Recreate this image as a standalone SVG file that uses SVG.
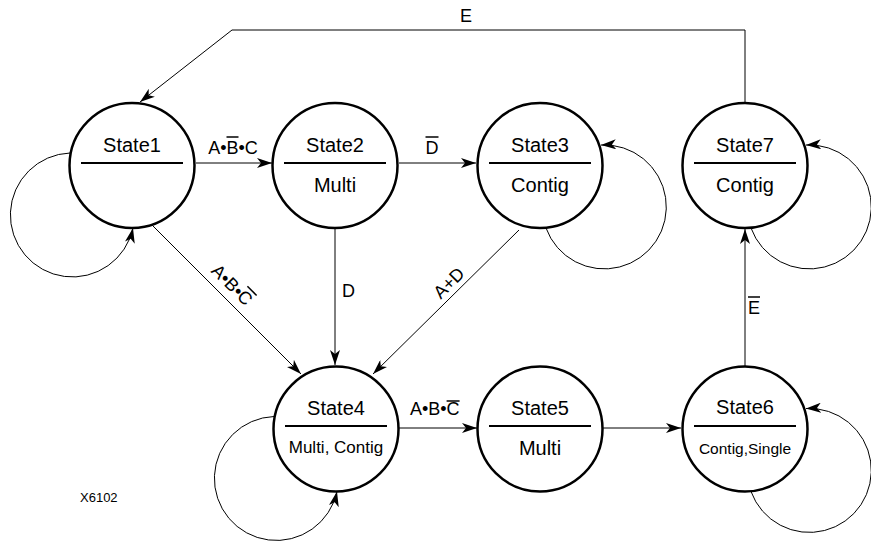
<svg xmlns="http://www.w3.org/2000/svg" width="871" height="542" viewBox="0 0 871 542">
<style>
.st{fill:#fff;stroke:#000;stroke-width:2.5}
.dv{stroke:#000;stroke-width:1.8}
.t{font-family:"Liberation Sans",Arial,sans-serif;fill:#000;text-anchor:middle}
.nm{font-size:20px}
.sb{font-size:20px}
.c{fill:none;stroke:#000;stroke-width:1}
.lb{font-family:"Liberation Sans",Arial,sans-serif;font-size:18px;fill:#000}
.ol{stroke:#000;stroke-width:1.5}
</style>
<defs>
<marker id="ah" viewBox="0 0 15 10" refX="15" refY="5" markerWidth="15" markerHeight="10" markerUnits="userSpaceOnUse" orient="auto">
<path d="M0,0 L15,5 L0,10 L4,5 Z" fill="#000"/>
</marker>
</defs>
<rect width="871" height="542" fill="#fff"/>
<g id="connectors" class="c">
<path d="M196,163 L272,163" marker-end="url(#ah)"/>
<path d="M399,163 L476,163" marker-end="url(#ah)"/>
<path d="M152,225 L301,374" marker-end="url(#ah)"/>
<path d="M335,228 L335,365" marker-end="url(#ah)"/>
<path d="M519,230 L373,374" marker-end="url(#ah)"/>
<path d="M399,428 L477,428" marker-end="url(#ah)"/>
<path d="M603,428 L681,428" marker-end="url(#ah)"/>
<path d="M745,366 L745,229" marker-end="url(#ah)"/>
<path d="M745,103 L745,30 L232,30 L140,102" marker-end="url(#ah)"/>
<path d="M70,153 A62,62 0 1,0 133,228" marker-end="url(#ah)"/>
<path d="M546,228 A62,62 0 1,0 601,145" marker-end="url(#ah)"/>
<path d="M751,228 A62,62 0 1,0 806,145" marker-end="url(#ah)"/>
<path d="M274,416.5 A62,62 0 1,0 337,491.5" marker-end="url(#ah)"/>
<path d="M751,491.5 A62,62 0 1,0 806,408.5" marker-end="url(#ah)"/>
</g>
<g id="labels">
<text class="lb" x="466" y="22" text-anchor="middle">E</text>
<text class="lb" x="233" y="154" text-anchor="middle">A•B•C</text>
<line class="ol" x1="226.5" y1="137" x2="238.5" y2="137"/>
<text class="lb" x="432" y="154" text-anchor="middle">D</text>
<line class="ol" x1="425.5" y1="137" x2="438.5" y2="137"/>
<g transform="translate(232,285) rotate(45)">
<text class="lb" x="0" y="6" text-anchor="middle">A•B•C</text>
<line class="ol" x1="11.8" y1="-10" x2="24.8" y2="-10"/>
</g>
<text class="lb" x="342" y="297">D</text>
<g transform="translate(449,283) rotate(-45)">
<text class="lb" x="0" y="6" text-anchor="middle">A+D</text>
</g>
<text class="lb" x="410" y="415">A•B•C</text>
<line class="ol" x1="446.6" y1="401" x2="459.6" y2="401"/>
<text class="lb" x="748" y="314">E</text>
<line class="ol" x1="748" y1="297" x2="760" y2="297"/>
<text class="lb" x="80" y="502" style="font-size:13px">X6102</text>
</g>
<g id="State1">
<circle class="st" cx="132" cy="165.5" r="62.5"/>
<line class="dv" x1="81" y1="163" x2="183" y2="163"/>
<text class="t nm" x="132" y="152">State1</text>
</g>
<g id="State2">
<circle class="st" cx="335" cy="165.5" r="62.5"/>
<line class="dv" x1="284" y1="163" x2="386" y2="163"/>
<text class="t nm" x="335" y="152">State2</text>
<text class="t sb" x="335" y="192">Multi</text>
</g>
<g id="State3">
<circle class="st" cx="540" cy="165.5" r="62.5"/>
<line class="dv" x1="489" y1="163" x2="591" y2="163"/>
<text class="t nm" x="540" y="152">State3</text>
<text class="t sb" x="540" y="192">Contig</text>
</g>
<g id="State7">
<circle class="st" cx="745" cy="165.5" r="62.5"/>
<line class="dv" x1="694" y1="163" x2="796" y2="163"/>
<text class="t nm" x="745" y="152">State7</text>
<text class="t sb" x="745" y="192">Contig</text>
</g>
<g id="State4">
<circle class="st" cx="336" cy="429" r="62.5"/>
<line class="dv" x1="285" y1="426" x2="387" y2="426"/>
<text class="t nm" x="336" y="415">State4</text>
<text class="t" x="336" y="453" style="font-size:17px">Multi, Contig</text>
</g>
<g id="State5">
<circle class="st" cx="540" cy="429" r="62.5"/>
<line class="dv" x1="489" y1="426" x2="591" y2="426"/>
<text class="t nm" x="540" y="415">State5</text>
<text class="t sb" x="540" y="455">Multi</text>
</g>
<g id="State6">
<circle class="st" cx="745" cy="429" r="62.5"/>
<line class="dv" x1="694" y1="426" x2="796" y2="426"/>
<text class="t nm" x="745" y="414">State6</text>
<text class="t" x="745" y="454" style="font-size:15.5px">Contig,Single</text>
</g>
</svg>
